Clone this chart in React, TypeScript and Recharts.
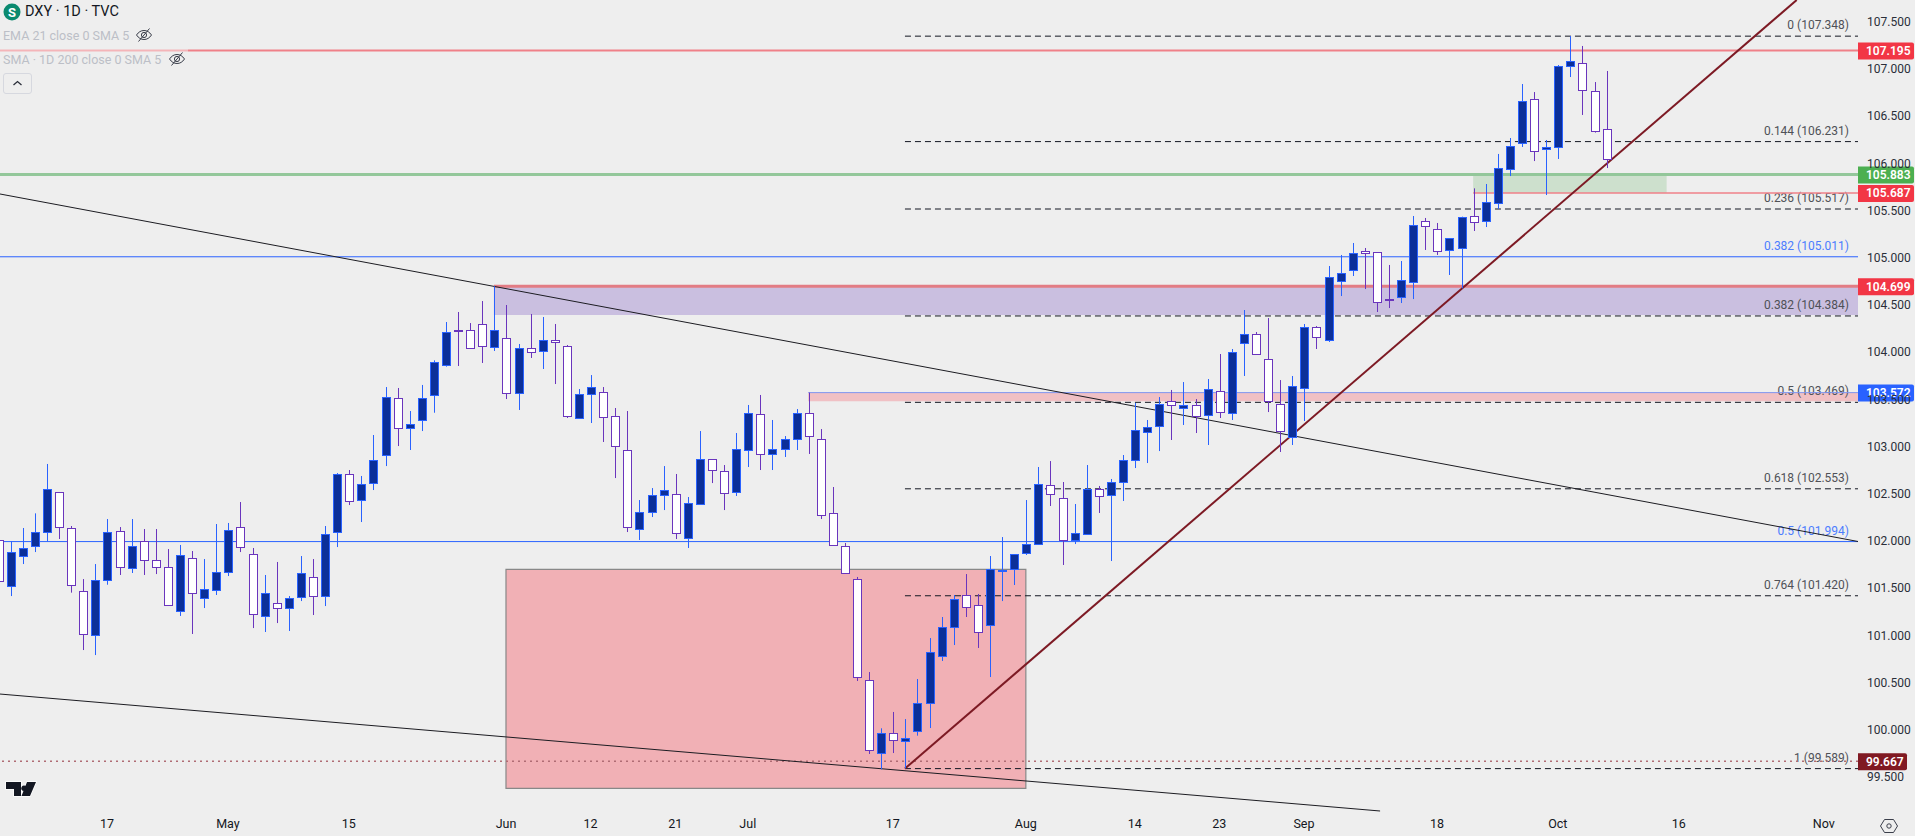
import { Bar, ComposedChart, ReferenceArea, ReferenceLine, XAxis, YAxis } from 'recharts';

const opens = [
  102.007, 101.516, 101.834, 101.94, 102.088, 102.516, 102.134, 101.467, 100.997, 101.58,
  102.102, 101.707, 101.996, 101.795, 101.721, 101.251, 101.816, 101.389, 101.474, 101.665,
  102.145, 101.859, 101.198, 101.34, 101.283, 101.4, 101.615, 101.41, 102.088, 102.706,
  102.427, 102.607, 102.904, 103.511, 103.19, 103.275, 103.54, 103.857, 104.232, 104.232,
  104.295, 104.048, 104.147, 103.561, 104.041, 104.009, 104.126, 104.062, 103.296, 103.55,
  103.575, 103.321, 102.96, 102.12, 102.3, 102.48, 102.494, 102.025, 102.385, 102.865,
  102.738, 102.512, 102.957, 103.342, 102.915, 102.967, 103.073, 103.352, 103.077, 102.293,
  101.944, 101.594, 100.524, 99.751, 99.963, 99.885, 99.98, 100.277, 100.775, 101.082,
  101.424, 101.319, 101.103, 101.686, 101.7, 101.866, 101.961, 102.59, 102.452, 102.004,
  102.067, 102.547, 102.48, 102.618, 102.851, 103.148, 103.211, 103.479, 103.405, 103.437,
  103.328, 103.585, 103.349, 104.09, 104.189, 103.924, 103.451, 103.095, 103.614, 104.263,
  104.122, 104.747, 104.864, 105.072, 105.058, 104.56, 104.578, 104.737, 105.386, 105.301,
  105.076, 105.107, 105.439, 105.383, 105.573, 105.934, 106.209, 106.679, 106.145, 106.167,
  107.028, 107.06, 106.763, 106.361,
];
const highs = [
  102.007, 101.996, 102.138, 102.293, 102.816, 102.516, 102.159, 101.597, 101.756, 102.233,
  102.148, 102.233, 102.127, 102.127, 101.915, 101.958, 101.894, 101.809, 102.18, 102.191,
  102.413, 101.926, 101.64, 101.778, 101.417, 101.841, 101.809, 102.159, 102.72, 102.752,
  102.689, 103.123, 103.631, 103.621, 103.377, 103.653, 103.914, 104.32, 104.426, 104.309,
  104.542, 104.699, 104.5, 104.087, 104.405, 104.373, 104.299, 104.076, 103.61, 103.758,
  103.631, 103.409, 103.377, 102.434, 102.561, 102.794, 102.71, 102.466, 103.165, 102.865,
  102.805, 103.144, 103.441, 103.547, 103.282, 103.112, 103.398, 103.572, 103.186, 102.572,
  101.979, 101.619, 100.612, 100.016, 100.189, 100.114, 100.538, 100.972, 101.195, 101.428,
  101.65, 101.439, 101.841, 102.042, 101.859, 102.434, 102.784, 102.847, 102.625, 102.392,
  102.805, 102.583, 102.657, 102.911, 103.462, 103.282, 103.525, 103.6, 103.684, 103.504,
  103.716, 103.981, 104.034, 104.447, 104.214, 104.362, 103.705, 103.748, 104.299, 104.277,
  104.913, 105.03, 105.157, 105.104, 105.058, 104.924, 104.966, 105.443, 105.422, 105.369,
  105.206, 105.436, 105.736, 105.782, 106.1, 106.269, 106.841, 106.756, 106.248, 107.042,
  107.349, 107.244, 106.862, 106.979,
];
const lows = [
  101.55, 101.417, 101.756, 101.883, 101.996, 102.021, 101.453, 100.845, 100.792, 101.537,
  101.64, 101.661, 101.64, 101.65, 101.315, 101.206, 101.015, 101.29, 101.428, 101.629,
  101.883, 101.078, 101.036, 101.131, 101.047, 101.364, 101.216, 101.311, 101.936, 102.381,
  102.201, 102.54, 102.794, 103.006, 102.964, 103.165, 103.359, 103.847, 103.854, 104.037,
  103.886, 104.013, 103.504, 103.388, 103.939, 103.822, 103.663, 103.303, 103.296, 103.25,
  103.049, 102.667, 102.095, 102.011, 102.254, 102.328, 102.021, 101.926, 102.385, 102.614,
  102.328, 102.477, 102.784, 102.752, 102.752, 102.89, 102.964, 102.922, 102.233, 101.951,
  101.654, 100.517, 99.744, 99.581, 99.754, 99.592, 99.938, 100.019, 100.729, 100.898,
  101.195, 100.867, 100.559, 101.364, 101.534, 101.852, 101.961, 102.371, 101.746, 101.968,
  102.067, 102.297, 101.788, 102.424, 102.773, 102.826, 102.953, 103.07, 103.229, 103.144,
  103.017, 103.303, 103.282, 103.748, 103.974, 103.366, 102.943, 103.017, 103.271, 104.034,
  104.108, 104.595, 104.807, 104.669, 104.426, 104.468, 104.521, 104.563, 105.083, 105.03,
  104.818, 104.676, 105.284, 105.326, 105.517, 105.866, 106.174, 106.025, 105.665, 106.047,
  106.915, 106.513, 106.326, 105.951,
];
const closes = [
  101.569, 101.88, 101.922, 102.092, 102.547, 102.141, 101.527, 101.008, 101.583, 102.092,
  101.718, 101.944, 101.792, 101.718, 101.315, 101.848, 101.442, 101.488, 101.668, 102.113,
  101.929, 101.22, 101.446, 101.283, 101.393, 101.657, 101.41, 102.071, 102.706, 102.417,
  102.6, 102.855, 103.522, 103.19, 103.236, 103.511, 103.893, 104.21, 104.228, 104.037,
  104.059, 104.232, 103.561, 104.041, 103.999, 104.126, 104.104, 103.317, 103.554, 103.628,
  103.306, 102.999, 102.141, 102.304, 102.484, 102.537, 102.078, 102.399, 102.865, 102.745,
  102.501, 102.971, 103.352, 102.915, 102.971, 103.077, 103.352, 103.105, 102.268, 101.951,
  101.654, 100.552, 99.779, 99.963, 99.885, 99.917, 100.28, 100.821, 101.085, 101.382,
  101.294, 101.029, 101.7, 101.693, 101.859, 101.965, 102.6, 102.491, 102.004, 102.081,
  102.547, 102.47, 102.621, 102.855, 103.172, 103.204, 103.448, 103.434, 103.437, 103.317,
  103.607, 103.359, 103.999, 104.189, 103.974, 103.476, 103.169, 103.638, 104.263, 104.154,
  104.793, 104.835, 105.047, 105.054, 104.525, 104.546, 104.761, 105.344, 105.33, 105.065,
  105.206, 105.436, 105.372, 105.587, 105.948, 106.181, 106.657, 106.124, 106.17, 107.028,
  107.081, 106.774, 106.336, 106.043,
];

const priceTicks = [99.5, 100, 100.5, 101, 101.5, 102, 102.5, 103, 103.5, 104, 104.5, 105, 105.5, 106, 106.5, 107, 107.5];
const timeTickBars = [9, 19, 29, 42, 49, 56, 62, 74, 85, 94, 101, 108, 119, 129, 139, 151];
const timeTickLabels = ['17', 'May', '15', 'Jun', '12', '21', 'Jul', '17', 'Aug', '14', '23', 'Sep', '18', 'Oct', '16', 'Nov'];

const fibPrices = [107.348, 106.231, 105.517, 104.384, 103.469, 102.553, 101.42, 99.589];
const fibLabels = ['0 (107.348)', '0.144 (106.231)', '0.236 (105.517)', '0.382 (104.384)', '0.5 (103.469)', '0.618 (102.553)', '0.764 (101.420)', '1 (99.589)'];
const blueFibPrices = [105.011, 101.994];
const blueFibLabels = ['0.382 (105.011)', '0.5 (101.994)'];

const tagPrices = [107.195, 105.883, 105.687, 104.699, 103.572, 99.667];
const tagColors = ['#f23645', '#4caf50', '#f23645', '#f23645', '#2962ff', '#801922'];

const firstBar = 0.148;
const lastBar = 153.83;
const topPrice = 107.731;
const bottomPrice = 99.14;

const rows = opens.map((open, i) => ({
  bar: i,
  open,
  close: closes[i],
  range: [lows[i], highs[i]],
}));

const font = 'Roboto, "Noto Sans", sans-serif';
const plotRight = 1858;

function Candle(props: any) {
  const { x, y, width, height, payload } = props;
  const [low, high] = payload.range;
  const perUnit = height / (high - low);
  const cx = Math.round(x + width / 2) + 0.5;
  const top = y + (high - Math.max(payload.open, payload.close)) * perUnit;
  const bottom = y + (high - Math.min(payload.open, payload.close)) * perUnit;
  const up = payload.close >= payload.open;
  const edge = up ? '#2962ff' : '#6a35bd';
  const bodyTop = Math.round(top) + 0.5;
  const bodyHeight = Math.max(Math.round(bottom - top), 1);
  return (
    <g>
      <line x1={cx} x2={cx} y1={y} y2={y + height} stroke={edge} strokeWidth={1} />
      <rect x={cx - 4} y={bodyTop} width={8} height={bodyHeight} fill={up ? '#0b2f99' : '#ffffff'} stroke={edge} strokeWidth={1} />
    </g>
  );
}

function FibText(props: any) {
  const { viewBox, value, color } = props;
  return (
    <text x={plotRight - 9} y={viewBox.y - 7} textAnchor="end" fill={color} fontSize={12} fontFamily={font}>
      {value}
    </text>
  );
}

function PriceTag(props: any) {
  const { viewBox, value, color } = props;
  const w = value < 100 ? 49 : 56;
  return (
    <g>
      <path
        d={`M${plotRight} ${viewBox.y - 8}h${w - 2}a2 2 0 0 1 2 2v13a2 2 0 0 1 -2 2h-${w - 2}z`}
        fill={color}
      />
      <text x={plotRight + 8} y={viewBox.y + 4.5} fill="#ffffff" fontSize={12} fontWeight={600} fontFamily={font}>
        {value.toFixed(3)}
      </text>
    </g>
  );
}

function EyeOff({ left, top }: { left: number; top: number }) {
  return (
    <svg width={18} height={18} viewBox="0 0 18 18" style={{ position: 'absolute', left, top }}>
      <path d="M1.5 9c2-3 4.5-4.500 7.500-4.500s5.500 1.500 7.500 4.500c-2 3-4.500 4.500-7.500 4.500s-5.500-1.500-7.500-4.500z" fill="none" stroke="#3a3e4a" strokeWidth={1} />
      <circle cx={9} cy={9} r={2.6} fill="none" stroke="#3a3e4a" strokeWidth={1} />
      <path d="M3.500 15.500L14.500 2.500" stroke="#3a3e4a" strokeWidth={1} />
    </svg>
  );
}

function Legend() {
  const row: any = { position: 'absolute', left: 3, whiteSpace: 'nowrap', fontFamily: font, fontSize: 12.5, color: '#bcbfc7' };
  return (
    <>
      <svg width={18} height={18} viewBox="0 0 18 18" style={{ position: 'absolute', left: 3, top: 3 }}>
        <circle cx={9} cy={9} r={8.500} fill="#0b8a6f" />
        <text x={9} y={13.500} textAnchor="middle" fill="#ffffff" fontSize={13} fontWeight={700} fontFamily={font}>S</text>
      </svg>
      <div style={{ ...row, left: 25, top: 3, fontSize: 14.5, color: '#131722' }}>DXY · 1D · TVC</div>
      <div style={{ ...row, top: 28 }}>EMA 21 close 0 SMA 5</div>
      <EyeOff left={135} top={26} />
      <div style={{ ...row, top: 52 }}>SMA · 1D 200 close 0 SMA 5</div>
      <EyeOff left={168} top={50} />
      <div style={{ position: 'absolute', left: 3, top: 73, width: 27, height: 19, border: '1px solid #d6d8df', borderRadius: 3 }}>
        <svg width={27} height={19} viewBox="0 0 27 19">
          <path d="M9.500 11l4-3.500 4 3.500" fill="none" stroke="#2a2e39" strokeWidth={1.3} />
        </svg>
      </div>
      <svg width={36} height={22} viewBox="0 0 36 22" style={{ position: 'absolute', left: 3, top: 779 }}>
        <path
          d="M3 3h15v14h-7v-7h-8zM24 3h9l-6 14h-8.500zM21 6.500a2.800 2.800 0 1 1 -0.010 0z"
          fill="#131722"
          stroke="#ffffff"
          strokeWidth={1.500}
          paintOrder="stroke"
        />
      </svg>
      <svg width={20} height={18} viewBox="0 0 20 18" style={{ position: 'absolute', left: 1879, top: 817 }}>
        <path d="M5.500 2.500h9l4 6.500-4 6.500h-9l-4-6.500z" fill="none" stroke="#3a3e4a" strokeWidth={1} />
        <circle cx={10} cy={9} r={2.200} fill="none" stroke="#3a3e4a" strokeWidth={1} />
      </svg>
    </>
  );
}

export default function App() {
  return (
    <div style={{ position: 'absolute', left: 0, top: 0, width: 1915, height: 836, background: '#eeeeee', overflow: 'hidden' }}>
      <ComposedChart width={1915} height={836} data={rows} margin={{ top: 0, right: 0, bottom: 0, left: 0 }}>
        <XAxis
          dataKey="bar"
          type="number"
          scale="linear"
          domain={[firstBar, lastBar]}
          allowDataOverflow
          ticks={timeTickBars}
          interval={0}
          height={25}
          axisLine={false}
          tickLine={false}
          tickSize={0}
          tickMargin={8}
          tick={{ fill: '#131722', fontSize: 12.5, fontFamily: font }}
          tickFormatter={(v: number) => timeTickLabels[timeTickBars.indexOf(v)]}
        />
        <YAxis
          orientation="right"
          type="number"
          width={57}
          domain={[bottomPrice, topPrice]}
          allowDataOverflow
          ticks={priceTicks}
          interval={0}
          axisLine={false}
          tickLine={false}
          tickSize={0}
          tickMargin={9}
          tick={{ fill: '#2a2e39', fontSize: 12, fontFamily: font }}
          tickFormatter={(v: number) => v.toFixed(3)}
        />

        <ReferenceArea x1={42} x2={85} y1={99.38} y2={101.7} fill="#f1b0b5" fillOpacity={1} stroke="#888888" strokeWidth={1.2} />
        <ReferenceArea x1={41} x2={lastBar} y1={104.394} y2={104.699} fill="#cabfe0" fillOpacity={1} />
        <ReferenceArea x1={67} x2={lastBar} y1={103.48} y2={103.572} fill="#f0c0c4" fillOpacity={1} />
        <ReferenceArea x1={122} x2={138} y1={105.687} y2={105.883} fill="#cde0cd" fillOpacity={1} />

        {fibPrices.map((p, i) => (
          <ReferenceLine
            key={p}
            segment={[{ x: 75, y: p }, { x: lastBar, y: p }]}
            stroke="#131722"
            strokeWidth={1}
            strokeDasharray="6 4"
            label={<FibText value={fibLabels[i]} color="#4f5157" />}
          />
        ))}
        {blueFibPrices.map((p, i) => (
          <ReferenceLine
            key={p}
            y={p}
            stroke="#2962ff"
            strokeWidth={1}
            label={<FibText value={blueFibLabels[i]} color="#4c7dff" />}
          />
        ))}

        <ReferenceLine segment={[{ x: firstBar, y: 107.195 }, { x: 15.7, y: 107.195 }]} stroke="#f4b5b9" strokeWidth={2} />
        <ReferenceLine segment={[{ x: 15.7, y: 107.195 }, { x: lastBar, y: 107.195 }]} stroke="#ef8088" strokeWidth={2} />
        <ReferenceLine y={105.883} stroke="#93c79a" strokeWidth={3} />
        <ReferenceLine segment={[{ x: 122, y: 105.687 }, { x: lastBar, y: 105.687 }]} stroke="#ef8088" strokeWidth={1.5} />
        <ReferenceLine segment={[{ x: 41, y: 104.699 }, { x: lastBar, y: 104.699 }]} stroke="#e27c84" strokeWidth={3} />
        <ReferenceLine segment={[{ x: 67, y: 103.572 }, { x: lastBar, y: 103.572 }]} stroke="#7f96f0" strokeWidth={1} />
        <ReferenceLine y={99.667} stroke="#b06c74" strokeWidth={1.5} strokeDasharray="2 4" />

        <ReferenceLine segment={[{ x: firstBar, y: 105.676 }, { x: lastBar, y: 101.995 }]} stroke="#1c1c22" strokeWidth={1} />
        <ReferenceLine segment={[{ x: firstBar, y: 100.379 }, { x: 114.3, y: bottomPrice }]} stroke="#1c1c22" strokeWidth={1} />
        <ReferenceLine segment={[{ x: 75, y: 99.589 }, { x: 148.76, y: topPrice }]} stroke="#7d1a24" strokeWidth={2} />

        <Bar dataKey="range" barSize={9} isAnimationActive={false} shape={<Candle />} zIndex={450} />

        {tagPrices.map((p, i) => (
          <ReferenceLine key={p} y={p} stroke="none" label={<PriceTag value={p} color={tagColors[i]} />} />
        ))}
      </ComposedChart>
      <Legend />
    </div>
  );
}
